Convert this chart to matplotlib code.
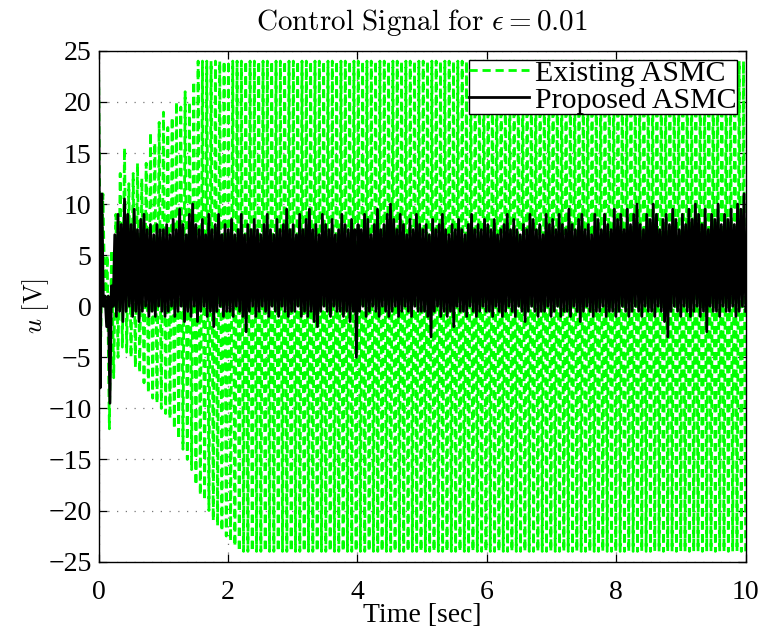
import numpy as np
import matplotlib
matplotlib.use('Agg')
import matplotlib.pyplot as plt

plt.rcParams['font.family'] = ['Liberation Serif', 'DejaVu Serif']
plt.rcParams['mathtext.fontset'] = 'cm'

# Existing ASMC: chattering extrema, alternating high / low, evenly spaced over 0-10 s
green_u = [
    24, -3, 11, 0, 5, -12, 5.5, -7, 9, -5, 13, -4, 15.5, -4.5, 12, -5, 13, -6, 14, -6.5,
    12.5, -7.5, 14, -8.5, 17, -9, 16, -9.5, 18, -10, 19, -10.5, 17.5, -11, 18.5, -12, 20, -13, 19.5, -14,
    21, -15, 20, -16, 22, -17.5, 24, -18.5, 24, -19, 24, -20, 24, -21, 24, -21.5, 24, -22, 24, -22.5,
    24, -23, 24, -23.5, 24, -24, 24, -24, 24, -24, 24, -24, 24, -24, 24, -24, 24, -24, 24, -24,
    24, -24, 24, -24, 24, -24, 24, -24, 24, -24, 24, -24, 24, -24, 24, -24, 24, -24, 24, -24,
    24, -24, 24, -24, 24, -24, 24, -24, 24, -24, 24, -24, 24, -24, 24, -24, 24, -24, 24, -24,
    24, -24, 24, -24, 24, -24, 24, -24, 24, -24, 24, -24, 24, -24, 24, -24, 24, -24, 24, -24,
    24, -24, 24, -24, 24, -24, 24, -24, 24, -24, 24, -24, 24, -24, 24, -24, 24, -24, 24, -24,
    24, -24, 24, -24, 24, -24, 24, -24, 24, -24, 24, -24, 24, -24, 24, -24, 24, -24, 24, -24,
    24, -24, 24, -24, 24, -24, 24, -24, 24, -24, 24, -24, 24, -24, 24, -24, 24, -24, 24, -24,
    24, -24, 24, -24, 24, -24, 24, -24, 24, -24, 24, -24, 24, -24, 24, -24, 24, -24, 24, -24,
    24, -24, 24, -24, 24, -24, 24, -24, 24, -24, 24, -24, 24, -24, 24, -24, 24, -24, 24, -24,
    24, -24, 24, -24, 24, -24, 24, -24, 24, -24, 24, -24, 24, -24, 24, -24, 24, -24, 24, -24,
    24, -24, 24, -24, 24, -24, 24, -24, 24, -24, 24, -24, 24, -24, 24, -24, 24, -24, 24, -24,
    24, -24, 24, -24, 24, -24, 24, -24, 24, -24, 24, -24, 24, -24, 24, -24, 24, -24, 24, -24,
]

# Proposed ASMC: upper peaks and lower troughs, every 0.05 s
black_hi = [
    24.5, 11, 1, 1, 2, 7, 9, 8, 10.5, 9, 8, 9.5, 7.5, 8.5, 9, 7.5, 8, 7, 8, 7.5,
    7.5, 8, 7, 8.5, 7.5, 9.5, 8, 7, 9, 10, 8, 7.5, 8.5, 7, 9, 7.5, 8, 9, 7, 8,
    7.5, 8.5, 7, 7.5, 9, 7, 8, 7.5, 8.5, 7.5, 7, 8, 9, 7.5, 7, 8.5, 7.5, 8, 9.5, 7.5,
    8, 7, 9, 7.5, 8.5, 9.5, 7.5, 8, 7, 9, 8, 7.5, 8.5, 7, 7.5, 9, 8, 7.5, 8.5, 7.5,
    8, 7.5, 9, 8.5, 7, 8, 9.5, 7.5, 8, 9, 10, 8.5, 7.5, 9, 8, 7, 8.5, 7.5, 9, 8,
    7.5, 8, 7, 8.5, 7.5, 8, 9, 7.5, 7, 8, 7.5, 8.5, 7.5, 7, 8, 9, 7.5, 8, 7.5, 8.5,
    8, 7.5, 8.5, 7, 7.5, 8, 9, 7.5, 8.5, 7.5, 7, 8, 7.5, 9, 8.5, 7.5, 8, 7, 9, 8,
    8.5, 7.5, 9, 8, 7.5, 9.5, 8, 7.5, 8.5, 9, 7.5, 8, 7, 9, 8.5, 7.5, 9, 8, 7.5, 9.5,
    8.5, 9, 7.5, 9.5, 8, 9, 10, 8, 7.5, 9, 8.5, 10, 9, 7.5, 8.5, 9, 8, 9.5, 8.5, 7.5,
    9, 8, 9.5, 8.5, 10, 9, 8, 9.5, 7.5, 9, 8.5, 10, 8, 9, 8.5, 9.5, 8, 10, 9.5, 11,
]
black_lo = [
    -8, 0, -2, -9.5, 0, -1, -0.5, -1.5, -0.5, 0, -1, -0.5, -1.5, -0.5, 0, -1, -0.5, -1, 0, -0.5,
    -1, -0.5, 0, -1, -0.5, 0, -1.5, -0.5, -1, 0, -1.5, -0.5, 0, -1, -0.5, -2, -0.5, 0, -1, -0.5,
    -0.5, -1, 0, -0.5, -1, -2.5, -0.5, 0, -1, -0.5, 0, -0.5, -1, 0, -0.5, -1, 0, -0.5, -1, -0.5,
    -0.5, 0, -1, -0.5, -1, -0.5, -1.5, -2, -0.5, 0, -0.5, -1, 0, -0.5, -0.5, -1, -0.5, -1.5, -0.5, -5,
    -0.5, 0, -1, -0.5, 0, -0.5, -1, 0, -0.5, -1, -0.5, 0, -1, -0.5, 0, -0.5, -1, 0, -0.5, -0.5,
    -0.5, -1, -3, -0.5, 0, -1, -0.5, -1, -0.5, -2, 0, -0.5, -0.5, -1, 0, -0.5, -1, -0.5, 0, -0.5,
    -0.5, -1, 0, -0.5, -1, -0.5, 0, -0.5, -1, 0, -0.5, -1.5, -0.5, 0, -0.5, -1, -0.5, -0.5, 0, -1,
    -0.5, 0, -1, -0.5, -0.5, -1, 0, -0.5, -1.5, -0.5, 0, -0.5, -1, -0.5, -0.5, 0, -1, -0.5, -0.5, -1,
    -0.5, 0, -0.5, -1, -0.5, 0, -0.5, -1, 0, -0.5, -0.5, -1, 0, -0.5, -1.5, -3, -0.5, 0, -0.5, -1,
    0, -0.5, -1, -0.5, 0, -1, -0.5, -2.5, 0, -0.5, -0.5, -1, 0, -0.5, -0.5, 0, -1, -0.5, 0, -0.5,
]

t_green = np.linspace(0, 10, len(green_u))
black_u = np.empty(2 * len(black_hi))
black_u[0::2] = black_hi
black_u[1::2] = black_lo
t_black = np.linspace(0, 10, len(black_u))

fig = plt.figure(figsize=(7.64, 6.36), dpi=100)
ax = fig.add_axes([0.129, 0.117, 0.847, 0.803])

ax.plot(t_green, green_u, color='#00ff00', lw=2.0, dashes=(2.95, 1.736),
        label='Existing ASMC', zorder=2)
ax.plot(t_black, black_u, color='black', lw=2.0, label='Proposed ASMC', zorder=3)

ax.set_xlim(0, 10)
ax.set_ylim(-25, 25)
ax.set_xticks(np.arange(0, 11, 2))
ax.set_yticks(np.arange(-25, 26, 5))
ax.grid(True, color='#777777', linestyle=(0, (1, 6)), linewidth=0.9)
ax.set_axisbelow(True)
ax.tick_params(direction='in', length=6, width=0.9, top=True, right=True,
               labelsize=20)
ax.tick_params(axis='x', pad=13)
ax.tick_params(axis='y', pad=5)
for s in ax.spines.values():
    s.set_linewidth(1.0)

ax.set_title(r'$\mathrm{Control\ Signal\ for\ }\epsilon = 0.01$', fontsize=21, pad=15)
ax.set_xlabel('Time [sec]', fontsize=20, labelpad=-1)
ax.set_ylabel(r'$u\ \mathrm{[V]}$', fontsize=19, labelpad=-2)

leg = ax.legend(loc='upper right', fontsize=21.5, frameon=True, fancybox=False,
                edgecolor='black', framealpha=1, handlelength=2.0,
                borderaxespad=0.3, borderpad=0.0, labelspacing=0.0,
                handletextpad=0.2)
leg.get_frame().set_linewidth(1.0)

fig.savefig('out.png', dpi=100)
